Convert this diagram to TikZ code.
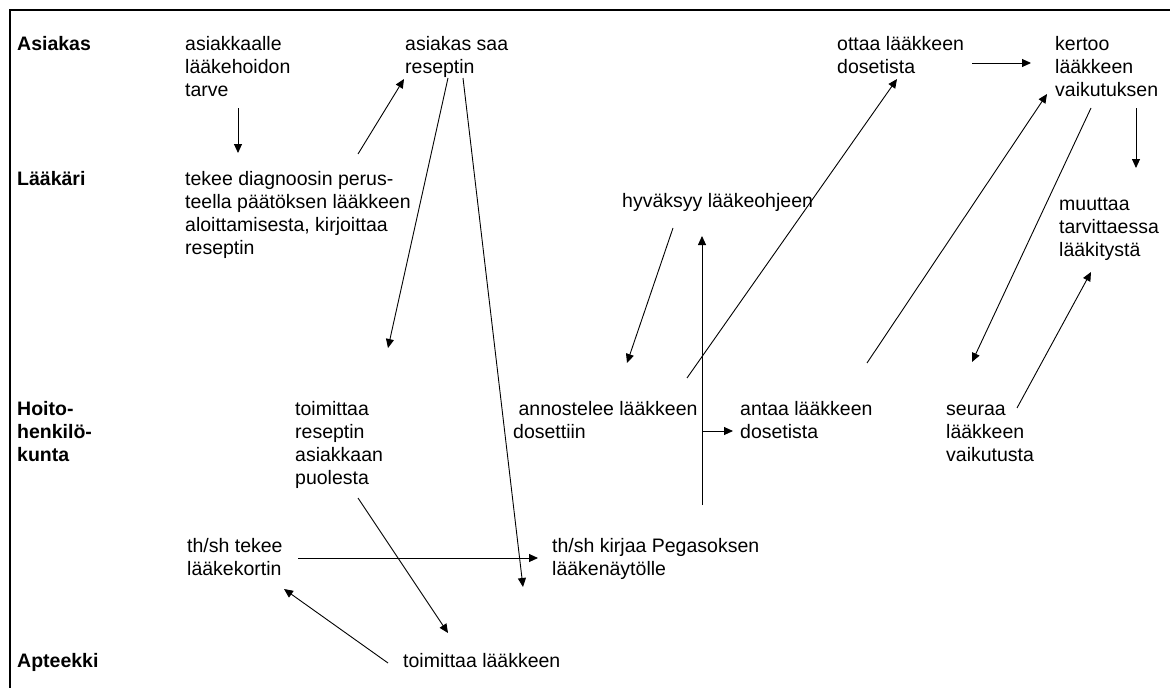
\documentclass[tikz,border=0pt]{standalone}
\usepackage{fontspec}
\setmainfont{Liberation Sans}
\usetikzlibrary{arrows.meta}
\begin{document}
\begin{tikzpicture}[x=1pt,y=-1pt,
  txt/.style={anchor=north west, inner sep=0pt, yshift=16.1pt, align=left,
    font=\fontsize{19.5}{23}\selectfont},
  lane/.style={txt, font=\fontsize{19.5}{23}\selectfont\bfseries},
  arr/.style={line width=0.9pt, -{Triangle[length=9pt,width=8pt]}},
  ln/.style={line width=0.9pt}]
\fill[white] (0,0) rectangle (1170,688);
\useasboundingbox (0,0) rectangle (1170,688);
\draw[line width=2pt, line join=miter] (10,688) -- (10,10) -- (1170,10);

% lane labels
\node[lane] (lAs) at (17,50) {\strut Asiakas};
\node[lane] (lLa) at (17,185) {\strut Lääkäri};
\node[lane] (lHo) at (17,415) {\strut Hoito-\\henkilö-\\kunta};
\node[lane] (lAp) at (17,667) {\strut Apteekki};

% activity texts
\node[txt] (tarve) at (185,50) {\strut asiakkaalle\\lääkehoidon\\tarve};
\node[txt] (saa) at (405,50) {\strut asiakas saa\\reseptin};
\node[txt] (ottaa) at (837,50) {\strut ottaa lääkkeen\\dosetista};
\node[txt] (kertoo) at (1055,50) {\strut kertoo\\lääkkeen\\vaikutuksen};
\node[txt] (diag) at (185,185) {\strut tekee diagnoosin perus-\\teella päätöksen lääkkeen\\aloittamisesta, kirjoittaa\\reseptin};
\node[txt] (hyv) at (622,207) {\strut hyväksyy lääkeohjeen};
\node[txt] (muut) at (1059,210) {\strut muuttaa\\tarvittaessa\\lääkitystä};
\node[txt] (toimr) at (295,415) {\strut toimittaa\\reseptin\\asiakkaan\\puolesta};
\node[txt] (annos) at (513,415) {\strut\ annostelee lääkkeen\\dosettiin};
\node[txt] (antaa) at (740,415) {\strut antaa lääkkeen\\dosetista};
\node[txt] (seur) at (946,415) {\strut seuraa\\lääkkeen\\vaikutusta};
\node[txt] (kortti) at (187,552) {\strut th/sh tekee\\lääkekortin};
\node[txt] (pega) at (552,552) {\strut th/sh kirjaa Pegasoksen\\lääkenäytölle};
\node[txt] (toiml) at (403,667) {\strut toimittaa lääkkeen};

% connector end points
\coordinate (a1s) at (238,108); \coordinate (a1e) at (238,153);
\coordinate (a2s) at (358,154); \coordinate (a2e) at (404,79);
\coordinate (a3s) at (448,78);  \coordinate (a3e) at (388,348);
\coordinate (a4s) at (463,78);  \coordinate (a4e) at (523,587);
\coordinate (a5s) at (673,228); \coordinate (a5e) at (627,363);
\coordinate (a6s) at (702,505); \coordinate (a6e) at (702,236);
\coordinate (a7s) at (702,431); \coordinate (a7e) at (733,431);
\coordinate (a8s) at (687,378); \coordinate (a8e) at (897,79);
\coordinate (a9s) at (972,63);  \coordinate (a9e) at (1031,63);
\coordinate (b1s) at (867,363); \coordinate (b1e) at (1047,94);
\coordinate (b2s) at (1091,108); \coordinate (b2e) at (972,362);
\coordinate (b3s) at (1136,108); \coordinate (b3e) at (1136,168);
\coordinate (b4s) at (1017,408); \coordinate (b4e) at (1091,272);
\coordinate (b5s) at (358,498); \coordinate (b5e) at (448,633);
\coordinate (b6s) at (298,558); \coordinate (b6e) at (538,558);
\coordinate (b7s) at (388,663); \coordinate (b7e) at (284,589);

\draw[arr] (a1s) -- (a1e);
\draw[arr] (a2s) -- (a2e);
\draw[arr] (a3s) -- (a3e);
\draw[arr] (a4s) -- (a4e);
\draw[arr] (a5s) -- (a5e);
\draw[arr] (a6s) -- (a6e);
\draw[arr] (a7s) -- (a7e);
\draw[arr] (a8s) -- (a8e);
\draw[arr] (a9s) -- (a9e);
\draw[arr] (b1s) -- (b1e);
\draw[arr] (b2s) -- (b2e);
\draw[arr] (b3s) -- (b3e);
\draw[arr] (b4s) -- (b4e);
\draw[arr] (b5s) -- (b5e);
\draw[arr] (b6s) -- (b6e);
\draw[arr] (b7s) -- (b7e);
\end{tikzpicture}
\end{document}
